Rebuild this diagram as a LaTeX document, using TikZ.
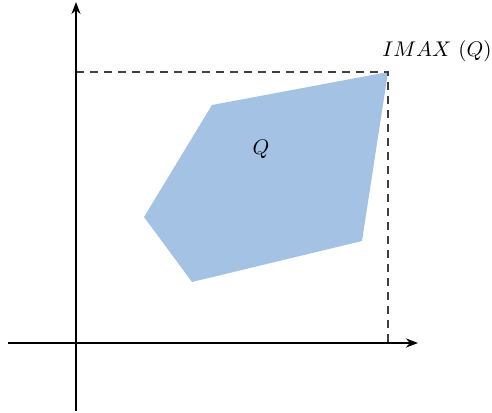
\documentclass[tikz,border=0pt]{standalone}
\usetikzlibrary{arrows.meta}
\definecolor{regblue}{RGB}{164,194,228}
\begin{document}
\begin{tikzpicture}[x=1pt,y=-1pt,
  axis/.style={line width=2pt,-{Stealth[length=12pt,width=9pt]}},
  guide/.style={line width=1.4pt,black!75,dash pattern=on 8pt off 6pt},
  lbl/.style={scale=2.12,transform shape=false}]
\useasboundingbox (0,0) rectangle (492,412);
\coordinate (p1) at (212,105);
\coordinate (p2) at (388,72);
\coordinate (p3) at (362,241);
\coordinate (p4) at (192,282);
\coordinate (p5) at (144,217);
\fill[regblue] (p1) -- (p2) -- (p3) -- (p4) -- (p5) -- cycle;
\coordinate (ytop) at (76,72);
\coordinate (xbot) at (388,343);
\draw[guide] (ytop) -- (p2) -- (xbot);
\coordinate (xs) at (8,343);
\coordinate (xe) at (418,343);
\coordinate (ys) at (76,411);
\coordinate (ye) at (76,2);
\draw[axis] (xs) -- (xe);
\draw[axis] (ys) -- (ye);
\node[lbl] (q) at (261,149) {$Q$};
\node[lbl] (imax) at (437,51) {$IMAX\ (Q)$};
\end{tikzpicture}
\end{document}
